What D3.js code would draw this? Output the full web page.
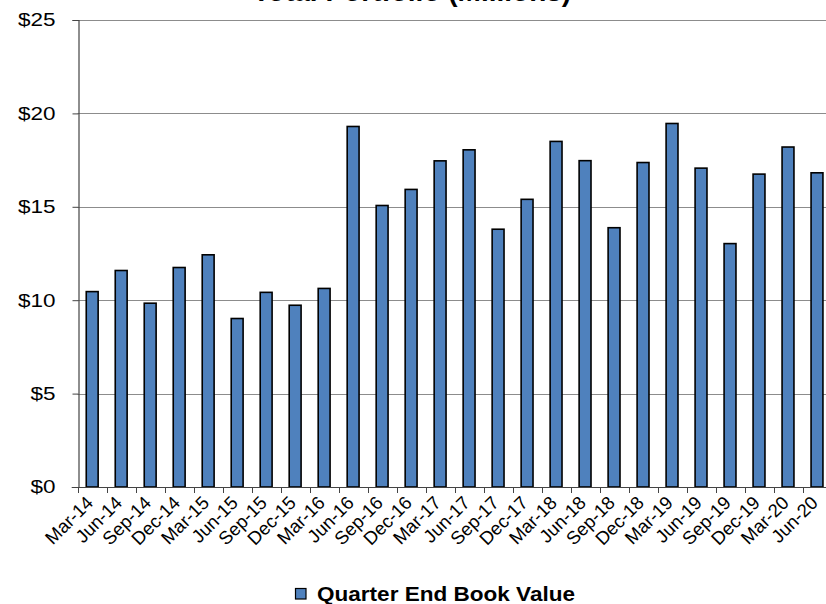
<!DOCTYPE html>
<html>
<head>
<meta charset="utf-8">
<script src="https://cdn.jsdelivr.net/npm/d3@7"></script>
<style>
  html, body { margin: 0; padding: 0; background: #fff; overflow: hidden; }
  svg { display: block; font-family: Arial, "Liberation Sans", sans-serif; }
</style>
</head>
<body>
<svg id="chart" width="826" height="604"></svg>
<script>
// Quarter-end book value, millions of dollars
const quarters = ["Mar-14","Jun-14","Sep-14","Dec-14","Mar-15","Jun-15","Sep-15","Dec-15","Mar-16",
  "Jun-16","Sep-16","Dec-16","Mar-17","Jun-17","Sep-17","Dec-17","Mar-18","Jun-18","Sep-18","Dec-18",
  "Mar-19","Jun-19","Sep-19","Dec-19","Mar-20","Jun-20"];
const bookValue = [10.46, 11.59, 9.84, 11.75, 12.43, 9.02, 10.42, 9.73, 10.63,
  19.30, 15.07, 15.93, 17.46, 18.05, 13.80, 15.40, 18.50, 17.47, 13.88, 17.37,
  19.46, 17.07, 13.03, 16.75, 18.20, 16.82];
const yTicks = [0, 5, 10, 15, 20, 25];
const seriesName = "Quarter End Book Value";
const chartTitle = "Total Portfolio (Millions)";

const svg = d3.select("#chart");
const plotLeft = 77.7, plotRight = 831.5, plotTop = 20, plotBottom = 487;
const textStretch = 1.21; // horizontal widening of the axis and legend lettering

const x = d3.scaleBand().domain(quarters).range([plotLeft, plotRight]).paddingInner(0.59).paddingOuter(0.295);
const xEdges = d3.scaleLinear().domain([0, quarters.length]).range([plotLeft, plotRight]);
const y = d3.scaleLinear().domain([0, 25]).range([plotBottom, plotTop]);

// title (sits mostly above the visible area)
svg.append("text")
  .attr("x", 412).attr("y", 1)
  .attr("text-anchor", "middle")
  .attr("font-weight", "bold").attr("font-size", 28)
  .attr("fill", "#000")
  .text(chartTitle);

// horizontal gridlines
svg.append("g").selectAll("line").data(yTicks.filter(d => d > 0)).join("line")
  .attr("x1", plotLeft).attr("x2", 826)
  .attr("y1", d => Math.round(y(d)) + 0.5).attr("y2", d => Math.round(y(d)) + 0.5)
  .attr("stroke", "#8c8c8c").attr("stroke-width", 1);

// bars
svg.append("g").selectAll("rect").data(quarters).join("rect")
  .attr("x", d => x(d))
  .attr("width", x.bandwidth())
  .attr("y", (d, i) => y(bookValue[i]))
  .attr("height", (d, i) => y(0) - y(bookValue[i]))
  .attr("fill", "#4F81BD")
  .attr("stroke", "#000").attr("stroke-width", 1.6);

// y axis
const yAxis = d3.axisLeft(y).tickValues(yTicks).tickSize(6).tickPadding(17)
  .tickFormat(d => "$" + d);
const gy = svg.append("g").attr("transform", `translate(${Math.round(plotLeft) + 0.5},0)`).call(yAxis);
gy.select(".domain").attr("stroke", "#444").attr("stroke-width", 1.2);
gy.selectAll(".tick line").attr("stroke", "#444");
gy.selectAll(".tick text")
  .attr("font-size", 18.6).attr("fill", "#000")
  .attr("font-family", "Arial, 'Liberation Sans', sans-serif")
  .attr("x", -23 / textStretch)
  .attr("transform", `scale(${textStretch},1)`);

// x axis baseline and category-boundary ticks
svg.append("line")
  .attr("x1", plotLeft - 6).attr("x2", 826)
  .attr("y1", Math.round(plotBottom) + 0.5).attr("y2", Math.round(plotBottom) + 0.5)
  .attr("stroke", "#444").attr("stroke-width", 1.2);
svg.append("g").selectAll("line").data(d3.range(quarters.length + 1)).join("line")
  .attr("x1", i => Math.round(xEdges(i)) + 0.5).attr("x2", i => Math.round(xEdges(i)) + 0.5)
  .attr("y1", plotBottom).attr("y2", plotBottom + 6)
  .attr("stroke", "#444").attr("stroke-width", 1);

// rotated category labels
svg.append("g").selectAll("text").data(quarters).join("text")
  .attr("transform", d => `translate(${x(d) + x.bandwidth() / 2 + 2},${plotBottom + 17}) rotate(-45)`)
  .attr("text-anchor", "end")
  .attr("font-size", 18.5).attr("fill", "#000")
  .text(d => d);

// legend
const lg = svg.append("g").attr("transform", "translate(295,588)");
lg.append("rect").attr("x", 0.5).attr("y", 0.5).attr("width", 10.5).attr("height", 10.5)
  .attr("fill", "#4F81BD").attr("stroke", "#000").attr("stroke-width", 1.2);
lg.append("text").attr("x", 22).attr("y", 12.5)
  .attr("font-size", 19.5).attr("font-weight", "bold").attr("fill", "#000")
  .attr("textLength", 258).attr("lengthAdjust", "spacingAndGlyphs")
  .text(seriesName);
</script>
</body>
</html>
